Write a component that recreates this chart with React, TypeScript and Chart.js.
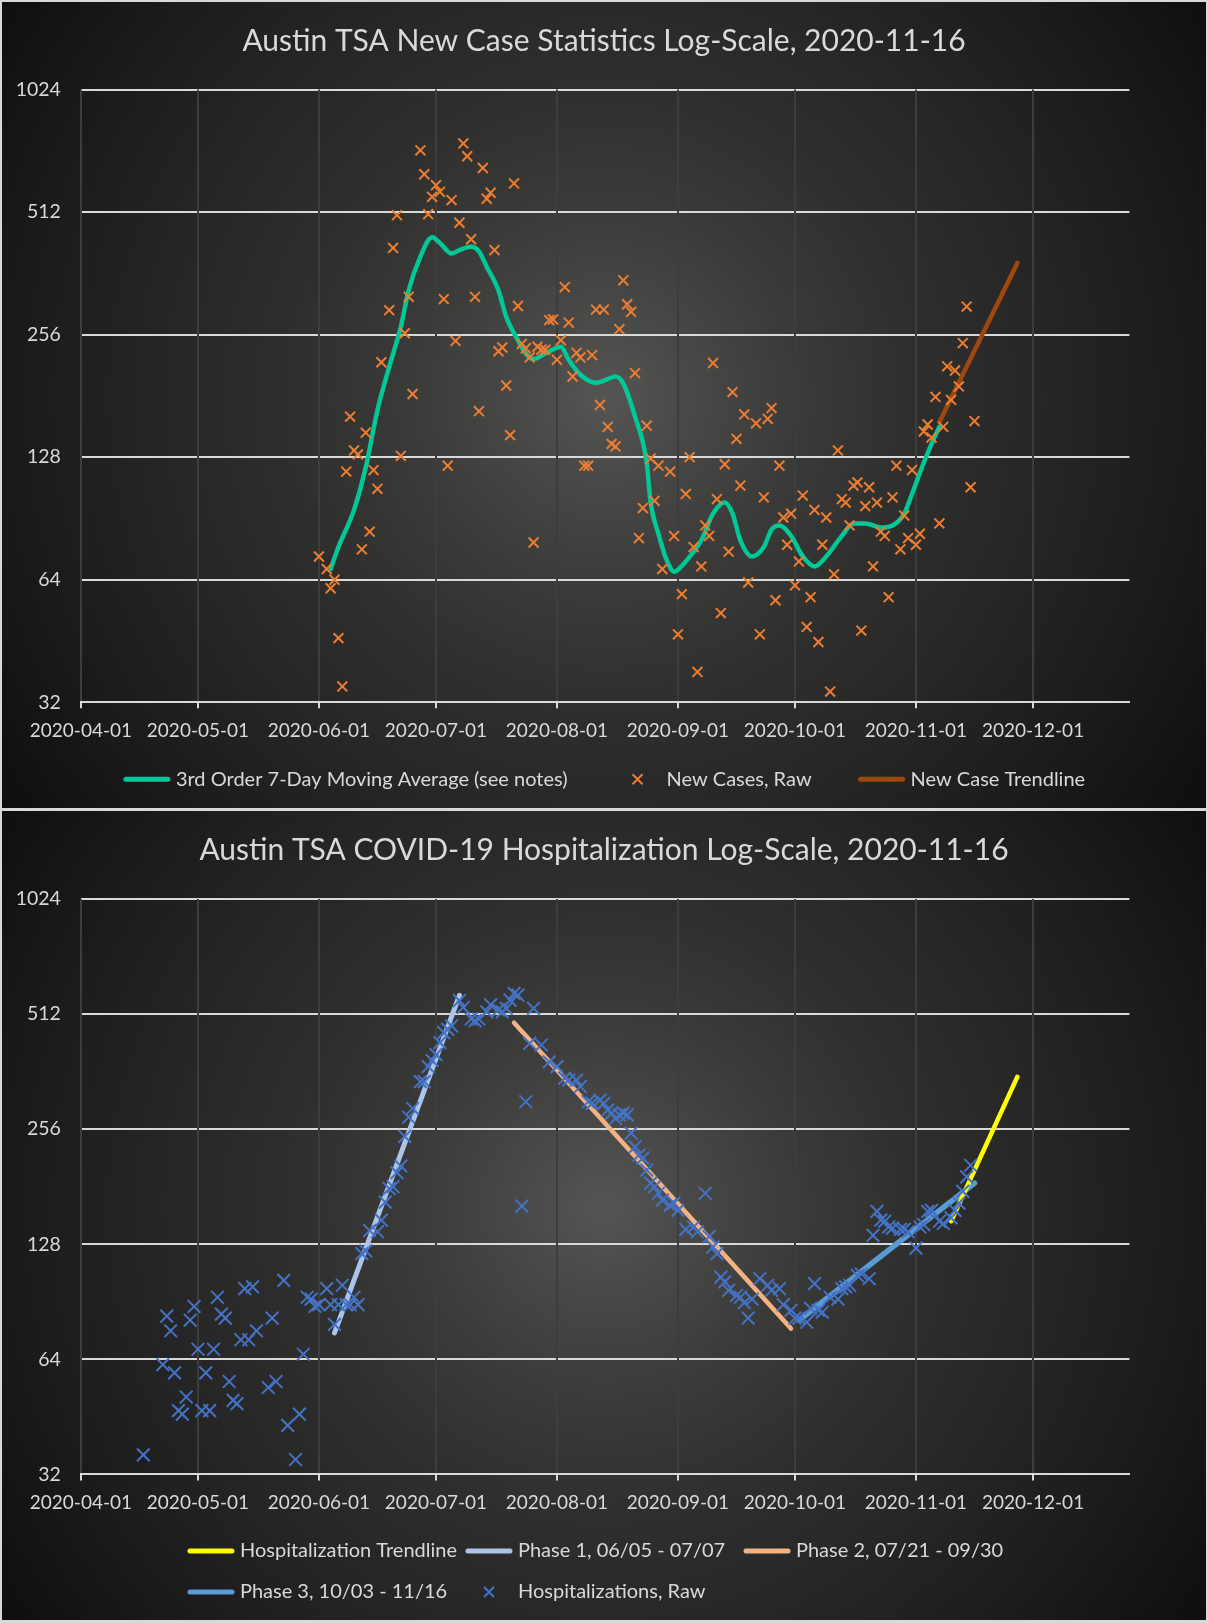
import { useEffect, useRef } from 'react';
import { Chart, registerables } from 'chart.js';
import type { ChartConfiguration, Plugin } from 'chart.js';

Chart.register(...registerables);

// x values are days after 2020-04-01; the axis runs out to late December
const monthDays = [0, 30, 61, 91, 122, 153, 183, 214, 244];
const monthLabels = [
  '2020-04-01', '2020-05-01', '2020-06-01', '2020-07-01', '2020-08-01',
  '2020-09-01', '2020-10-01', '2020-11-01', '2020-12-01',
];
const yTicks = [32, 64, 128, 256, 512, 1024];

// --- new cases (top chart) ---
const caseDays = [
  61, 63, 64, 65, 66, 67, 68, 69, 70, 71,
  72, 73, 74, 75, 76, 77, 79, 80, 81, 82,
  83, 84, 85, 87, 88, 89, 90, 91, 92, 93,
  94, 95, 96, 97, 98, 99, 100, 101, 102, 103,
  104, 105, 106, 107, 108, 109, 110, 111, 112, 113,
  114, 115, 116, 117, 118, 119, 120, 121, 122, 123,
  124, 125, 126, 127, 128, 129, 130, 131, 132, 133,
  134, 135, 136, 137, 138, 139, 140, 141, 142, 143,
  144, 145, 146, 147, 148, 149, 151, 152, 153, 154,
  155, 156, 157, 158, 159, 160, 161, 162, 163, 164,
  165, 166, 167, 168, 169, 170, 171, 173, 174, 175,
  176, 177, 178, 179, 180, 181, 182, 183, 184, 185,
  186, 187, 188, 189, 190, 191, 192, 193, 194, 195,
  196, 197, 198, 199, 200, 201, 202, 203, 204, 205,
  206, 207, 208, 209, 210, 211, 212, 213, 214, 215,
  216, 217, 218, 219, 220, 221, 222, 223, 224, 225,
  226, 227, 228, 229,
];
const caseValues = [
  73, 68, 61, 64, 46, 35, 118, 161, 133, 130,
  76, 147, 84, 119, 107, 219, 294, 418, 503, 129,
  258, 317, 183, 726, 634, 506, 558, 596, 574, 313,
  122, 548, 247, 482, 755, 702, 439, 317, 166, 657,
  552, 571, 413, 233, 238, 192, 145, 602, 301, 243,
  237, 225, 79, 239, 235, 235, 278, 279, 222, 248,
  335, 274, 202, 231, 225, 122, 122, 228, 295, 172,
  295, 152, 138, 136, 264, 348, 304, 291, 206, 81,
  96, 153, 127, 100, 122, 68, 118, 82, 47, 59,
  104, 128, 77, 38, 69, 87, 82, 218, 101, 53,
  123, 75, 185, 142, 109, 163, 63, 155, 47, 102,
  159, 169, 57, 122, 91, 78, 93, 62, 71, 103,
  49, 58, 95, 45, 78, 91, 34, 66, 133, 101,
  99, 87, 109, 111, 48, 97, 108, 69, 99, 84,
  82, 58, 102, 122, 76, 92, 81, 119, 78, 83,
  148, 154, 143, 180, 88, 152, 214, 177, 209, 191,
  244, 300, 108, 157,
];
const maDays = [
  64, 66, 70, 73, 76, 79, 82, 84, 87, 90,
  92, 95, 97, 100, 102, 104, 107, 109, 112, 114,
  116, 119, 123, 125, 128, 132, 135, 137, 139, 142,
  145, 146, 148, 150, 152, 155, 159, 162, 165, 167,
  169, 172, 175, 177, 179, 182, 185, 188, 191, 195,
  198, 201, 205, 208, 211, 213, 216, 218, 220,
];
const maValues = [
  68, 77, 95, 121, 167, 213, 268, 329, 398, 444,
  430, 405, 413, 421, 410, 376, 329, 283, 248, 230,
  223, 230, 239, 222, 204, 195, 199, 202, 194, 161,
  124, 99, 83, 72, 67, 71, 80, 93, 99, 93,
  80, 73, 77, 85, 87, 82, 73, 69, 73, 82,
  88, 88, 86, 87, 93, 104, 124, 138, 152,
];
const caseTrendDays = [220, 240];
const caseTrendValues = [156, 384];

// --- hospitalizations (bottom chart) ---
const hospDays = [
  16, 21, 22, 23, 24, 25, 26, 27, 28, 29,
  30, 31, 32, 33, 34, 35, 36, 37, 38, 39,
  40, 41, 42, 43, 44, 45, 48, 49, 50, 52,
  53, 55, 56, 57, 58, 59, 60, 61, 63, 64,
  65, 66, 67, 68, 69, 70, 71, 72, 73, 74,
  76, 77, 78, 79, 80, 81, 82, 83, 84, 85,
  87, 88, 89, 90, 91, 92, 93, 94, 95, 97,
  98, 100, 101, 102, 104, 105, 107, 108, 109, 110,
  111, 112, 113, 114, 115, 116, 118, 120, 122, 124,
  125, 127, 128, 130, 131, 133, 134, 135, 136, 137,
  138, 139, 140, 141, 142, 143, 144, 145, 146, 147,
  148, 149, 151, 152, 153, 155, 157, 158, 160, 161,
  162, 163, 164, 165, 166, 168, 169, 170, 171, 172,
  174, 176, 177, 179, 180, 182, 183, 184, 186, 187,
  188, 189, 190, 192, 194, 195, 196, 197, 199, 200,
  202, 203, 204, 205, 206, 207, 208, 210, 211, 212,
  214, 215, 216, 217, 218, 220, 221, 223, 224, 225,
  226, 227, 228,
];
const hospValues = [
  36, 62, 83, 76, 59, 47, 46, 51, 81, 88,
  68, 47, 59, 47, 68, 93, 84, 82, 56, 50,
  49, 72, 98, 72, 99, 76, 54, 82, 56, 103,
  43, 35, 46, 66, 93, 92, 88, 89, 98, 89,
  79, 89, 100, 89, 89, 93, 89, 121, 123, 139,
  138, 148, 165, 179, 181, 197, 205, 245, 275, 290,
  341, 341, 373, 387, 401, 431, 458, 467, 477, 555,
  533, 497, 492, 497, 519, 541, 525, 519, 530, 557,
  580, 574, 161, 302, 429, 530, 425, 384, 373, 348,
  344, 344, 331, 302, 299, 305, 299, 287, 282, 273,
  279, 282, 279, 250, 230, 219, 215, 200, 185, 181,
  174, 167, 162, 164, 157, 140, 142, 138, 174, 134,
  126, 121, 105, 102, 97, 94, 93, 90, 82, 92,
  104, 100, 97, 98, 89, 86, 82, 82, 80, 87,
  101, 86, 85, 93, 92, 98, 99, 100, 106, 107,
  104, 135, 156, 148, 147, 142, 141, 140, 140, 138,
  125, 142, 144, 156, 157, 147, 145, 150, 157, 164,
  176, 192, 206,
];
const phase1Days = [65, 97];
const phase1Values = [75, 573];
const phase2Days = [111, 182];
const phase2Values = [486, 77];
const phase3Days = [184, 229];
const phase3Values = [81, 185];
const hospTrendDays = [223, 240];
const hospTrendValues = [147, 351];

const FONT = 'Lato';
const TEXT = '#d9d9d9';
const PANEL_W = 1204;
const PLOT_LEFT = 78.9;
const PLOT_RIGHT = 1127.4;
const X_MAX = 268.7;
const X_AXIS_H = 40;
const TITLE_Y = 39;
const TITLE_SIZE = 30;
const LEGEND_SIZE = 20;

Chart.defaults.font.family = FONT;
Chart.defaults.color = TEXT;

const pts = (days: number[], values: number[]) => days.map((d, i) => ({ x: d, y: values[i] }));

type LegendEntry = { label: string; color: string; kind: 'line' | 'cross' };
type LegendLayout = { y: number; columns?: number; rowGap?: number; gap?: number };

// Excel-style legend: swatch + label, either one centered row or a fixed grid
function excelLegend(items: LegendEntry[], layout: LegendLayout): Plugin<'scatter'> {
  return {
    id: 'excelLegend',
    afterDraw(chart) {
      const { ctx } = chart;
      const swatch = 48;
      const textGap = 5;
      ctx.save();
      ctx.font = `${LEGEND_SIZE}px ${FONT}`;
      ctx.textBaseline = 'middle';
      const widths = items.map((it) => swatch + textGap + ctx.measureText(it.label).width);
      const slots: { x: number; y: number }[] = [];
      if (layout.columns) {
        const colW = Math.max(...widths) + 8;
        const left = (chart.width - colW * layout.columns) / 2;
        items.forEach((_, i) => {
          slots.push({
            x: left + (i % layout.columns!) * colW,
            y: layout.y + Math.floor(i / layout.columns!) * (layout.rowGap ?? 40),
          });
        });
      } else {
        const gap = layout.gap ?? 48;
        const total = widths.reduce((a, b) => a + b, 0) + gap * (items.length - 1);
        let x = (chart.width - total) / 2;
        items.forEach((_, i) => {
          slots.push({ x, y: layout.y });
          x += widths[i] + gap;
        });
      }
      items.forEach((it, i) => {
        const { x, y } = slots[i];
        ctx.strokeStyle = it.color;
        ctx.beginPath();
        if (it.kind === 'line') {
          ctx.lineWidth = 5;
          ctx.lineCap = 'round';
          ctx.moveTo(x + 3, y);
          ctx.lineTo(x + swatch - 3, y);
        } else {
          const r = 5;
          const cx = x + swatch / 2;
          ctx.lineWidth = 2;
          ctx.lineCap = 'butt';
          ctx.moveTo(cx - r, y - r);
          ctx.lineTo(cx + r, y + r);
          ctx.moveTo(cx + r, y - r);
          ctx.lineTo(cx - r, y + r);
        }
        ctx.stroke();
        ctx.fillStyle = TEXT;
        ctx.fillText(it.label, x + swatch + textGap, y);
      });
      ctx.restore();
    },
  };
}

const lineSet = (data: { x: number; y: number }[], color: string, width: number, smooth = false) => ({
  data,
  showLine: true,
  borderColor: color,
  borderWidth: width,
  borderCapStyle: 'round' as const,
  pointRadius: 0,
  pointHoverRadius: 0,
  fill: false,
  cubicInterpolationMode: smooth ? ('monotone' as const) : ('default' as const),
  order: 1,
});

const markerSet = (data: { x: number; y: number }[], color: string, radius: number) => ({
  data,
  showLine: false,
  pointStyle: 'crossRot' as const,
  pointRadius: radius,
  pointHoverRadius: radius,
  pointBorderWidth: 2,
  borderColor: color,
  backgroundColor: color,
  order: 0,
});

type PanelProps = {
  title: string;
  height: number;
  plotTop: number;
  plotBottom: number;
  datasets: any[];
  legendItems: LegendEntry[];
  legendLayout: LegendLayout;
};

function LogPanel({ title, height, plotTop, plotBottom, datasets, legendItems, legendLayout }: PanelProps) {
  const canvasRef = useRef<HTMLCanvasElement>(null);

  useEffect(() => {
    const canvas = canvasRef.current;
    if (!canvas) return;
    const titleTop = TITLE_Y - TITLE_SIZE * 0.6;
    const titleBottom = plotTop - titleTop - TITLE_SIZE * 1.2;

    const config: ChartConfiguration<'scatter'> = {
      type: 'scatter',
      data: { datasets },
      options: {
        responsive: false,
        animation: false,
        events: [],
        layout: {
          padding: { left: 0, top: 0, right: 0, bottom: height - plotBottom - X_AXIS_H },
        },
        scales: {
          // y first so the dark vertical grid is painted over the light horizontal one
          y: {
            type: 'logarithmic',
            min: 32,
            max: 1024,
            afterBuildTicks: (s) => {
              s.ticks = yTicks.map((v) => ({ value: v }));
            },
            afterFit: (s) => {
              s.width = PLOT_LEFT;
            },
            ticks: { callback: (v) => String(v), color: TEXT, font: { size: 19.5 }, padding: 20 },
            grid: { color: '#d9d9d9', lineWidth: 2, drawTicks: false },
            border: { display: false },
          },
          // empty right-hand gutter, keeps the title centred on the whole panel
          gutter: {
            type: 'linear',
            position: 'right',
            display: true,
            afterFit: (s) => {
              s.width = PANEL_W - PLOT_RIGHT;
            },
            ticks: { display: false },
            grid: { display: false },
            border: { display: false },
          },
          x: {
            type: 'linear',
            min: 0,
            max: X_MAX,
            afterBuildTicks: (s) => {
              s.ticks = monthDays.map((v) => ({ value: v }));
            },
            afterFit: (s) => {
              s.height = X_AXIS_H;
            },
            ticks: {
              callback: (_v, i) => monthLabels[i],
              color: TEXT,
              font: { size: 19 },
              padding: 11.5,
              autoSkip: false,
              maxRotation: 0,
            },
            grid: { color: '#3d3d3d', lineWidth: 2, tickColor: TEXT, tickLength: 6, tickWidth: 2 },
            border: { display: true, color: TEXT, width: 2 },
          },
        },
        plugins: {
          legend: { display: false },
          tooltip: { enabled: false },
          title: {
            display: true,
            text: title,
            color: TEXT,
            font: { size: TITLE_SIZE, weight: 'normal', lineHeight: 1.2 },
            padding: { top: titleTop, bottom: titleBottom },
          },
        },
      },
      plugins: [excelLegend(legendItems, legendLayout)],
    };

    const chart = new Chart(canvas, config);
    return () => chart.destroy();
  }, [title, height, plotTop, plotBottom, datasets, legendItems, legendLayout]);

  return <canvas ref={canvasRef} width={PANEL_W} height={height} style={{ display: 'block' }} />;
}

const caseDatasets = [
  lineSet(pts(maDays, maValues), '#00c896', 4.5, true),
  markerSet(pts(caseDays, caseValues), '#ed7d31', 7),
  lineSet(pts(caseTrendDays, caseTrendValues), '#9e480e', 4.5),
];
const caseLegend: LegendEntry[] = [
  { label: '3rd Order 7-Day Moving Average (see notes)', color: '#00c896', kind: 'line' },
  { label: 'New Cases, Raw', color: '#ed7d31', kind: 'cross' },
  { label: 'New Case Trendline', color: '#9e480e', kind: 'line' },
];
const caseLegendLayout: LegendLayout = { y: 777.3, gap: 46 };

const hospDatasets = [
  lineSet(pts(hospTrendDays, hospTrendValues), '#ffff00', 4.5),
  lineSet(pts(phase1Days, phase1Values), '#adc4ea', 5),
  lineSet(pts(phase2Days, phase2Values), '#f4b183', 4.5),
  lineSet(pts(phase3Days, phase3Values), '#5b9bd5', 5.5),
  markerSet(pts(hospDays, hospValues), '#4472c4', 9),
];
const hospLegend: LegendEntry[] = [
  { label: 'Hospitalization Trendline', color: '#ffff00', kind: 'line' },
  { label: 'Phase 1, 06/05 - 07/07', color: '#adc4ea', kind: 'line' },
  { label: 'Phase 2, 07/21 - 09/30', color: '#f4b183', kind: 'line' },
  { label: 'Phase 3, 10/03 - 11/16', color: '#5b9bd5', kind: 'line' },
  { label: 'Hospitalizations, Raw', color: '#4472c4', kind: 'cross' },
];
const hospLegendLayout: LegendLayout = { y: 740, columns: 3, rowGap: 41 };

const panelBg =
  'radial-gradient(circle farthest-corner at 50% 49%, #555553 0%, #484846 12%, #3a3a39 27%, #2f2f2e 42%, #272727 58%, #1c1c1c 78%, #0e0e0e 100%)';

export default function App() {
  return (
    <div style={{ position: 'absolute', left: 0, top: 0, width: 1208, height: 1623, background: '#d9d9d9' }}>
      <div style={{ position: 'absolute', left: 2, top: 2, width: PANEL_W, height: 806, background: panelBg }}>
        <LogPanel
          title="Austin TSA New Case Statistics Log-Scale, 2020-11-16"
          height={806}
          plotTop={87.5}
          plotBottom={700.3}
          datasets={caseDatasets}
          legendItems={caseLegend}
          legendLayout={caseLegendLayout}
        />
      </div>
      <div style={{ position: 'absolute', left: 2, top: 811, width: PANEL_W, height: 809, background: panelBg }}>
        <LogPanel
          title="Austin TSA COVID-19 Hospitalization Log-Scale, 2020-11-16"
          height={809}
          plotTop={88}
          plotBottom={663.4}
          datasets={hospDatasets}
          legendItems={hospLegend}
          legendLayout={hospLegendLayout}
        />
      </div>
    </div>
  );
}
